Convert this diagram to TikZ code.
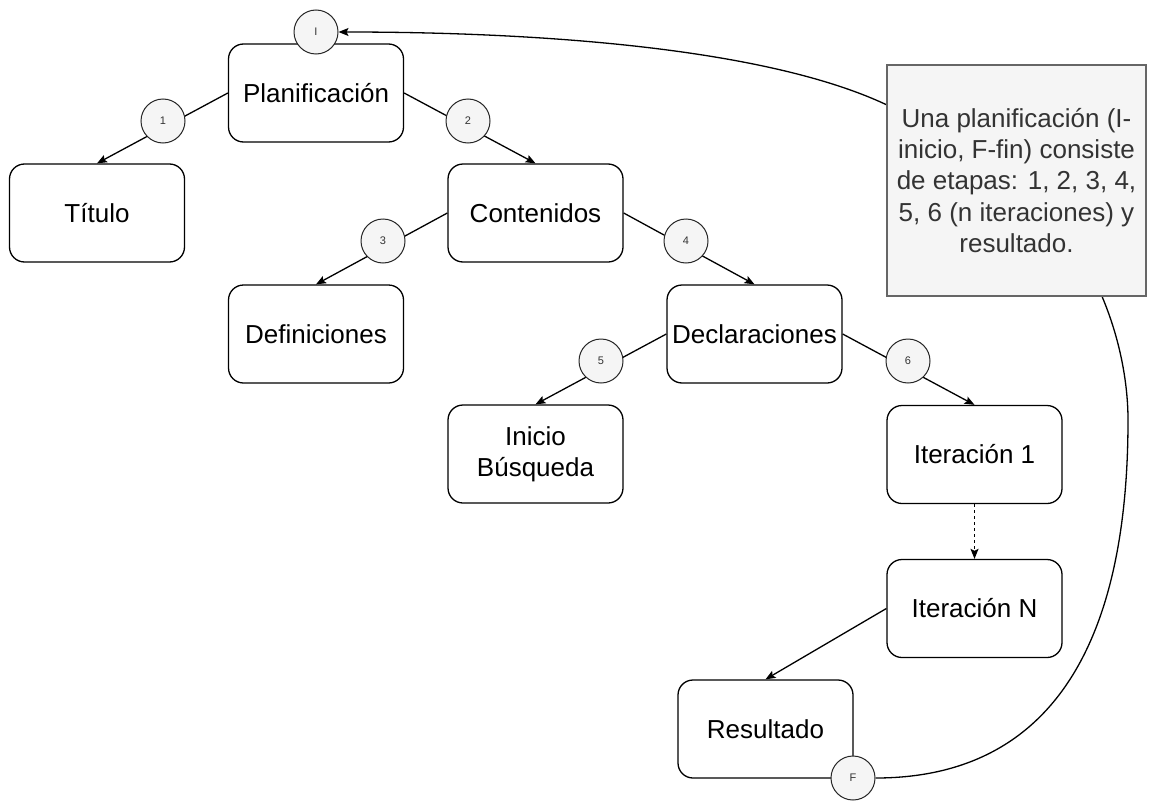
\documentclass[tikz,border=0pt]{standalone}
\usepackage{fontspec}
\setmainfont{Liberation Sans}
\usetikzlibrary{arrows.meta}
\definecolor{notefill}{HTML}{F5F5F5}
\definecolor{notedraw}{HTML}{666666}
\definecolor{notetext}{HTML}{333333}
\begin{document}
\begin{tikzpicture}[x=1pt,y=-1pt,
  box/.style={draw, line width=1.3pt, rounded corners=15pt, minimum width=175pt,
    minimum height=98pt, align=center, inner sep=0pt,
    font=\fontsize{26}{31}\selectfont},
  badge/.style={circle, draw=black!85, fill=notefill, line width=1pt, minimum size=44pt,
    inner sep=0pt, font=\fontsize{11}{13}\selectfont, text=notetext},
  conn/.style={line width=1.3pt, -{Stealth[length=10pt,width=8pt,inset=2pt]}},
  notebox/.style={draw=notedraw, fill=notefill, line width=1.3pt, minimum width=259pt,
    minimum height=231pt, align=center, inner sep=0pt, text=notetext,
    font=\fontsize{26}{31.25}\selectfont},
]
\useasboundingbox (0,0) rectangle (1150,800);

% boxes
\node[box] (plan) at (316,93) {Planificación};
\node[box] (tit)  at (97,213) {Título};
\node[box] (cont) at (535.5,213) {Contenidos};
\node[box] (defi) at (316,334) {Definiciones};
\node[box] (decl) at (754.5,334) {Declaraciones};
\node[box] (ini)  at (535.5,454) {Inicio\\Búsqueda};
\node[box] (it1)  at (974.5,454.5) {Iteración 1};
\node[box] (itn)  at (974.5,608.5) {Iteración N};
\node[box] (res)  at (765.5,729) {Resultado};

% connectors
\draw[conn] (plan.west) -- (tit.north);
\draw[conn] (plan.east) -- (cont.north);
\draw[conn] (cont.west) -- (defi.north);
\draw[conn] (cont.east) -- (decl.north);
\draw[conn] (decl.west) -- (ini.north);
\draw[conn] (decl.east) -- (it1.north);
\draw[conn, dash pattern=on 3pt off 3pt] (it1.south) -- (itn.north);
\draw[conn] (itn.west) -- (res.north);

% badges
\node[badge] (bI) at (316,32) {I};
\node[badge] (bF) at (853,778) {F};
\node[badge] (b1) at (163,121) {1};
\node[badge] (b2) at (468,121) {2};
\node[badge] (b3) at (383,241) {3};
\node[badge] (b4) at (686,241) {4};
\node[badge] (b5) at (601,361) {5};
\node[badge] (b6) at (908,361) {6};

% return curve (behind the note)
\coordinate (cA) at (1128,420);
\coordinate (cB) at (887,105);
\draw[conn] (bF.east) .. controls (1040,778) and (1128,660) .. (cA)
  .. controls (1128,330) and (1080,170) .. (cB)
  .. controls (760,45) and (520,32) .. (bI.east);

% note
\node[notebox] (note) at (1016.5,180.5) {Una planificación (I-\\inicio, F-fin) consiste\\de etapas: 1, 2, 3, 4,\\5, 6 (n iteraciones) y\\resultado.};
\end{tikzpicture}
\end{document}
